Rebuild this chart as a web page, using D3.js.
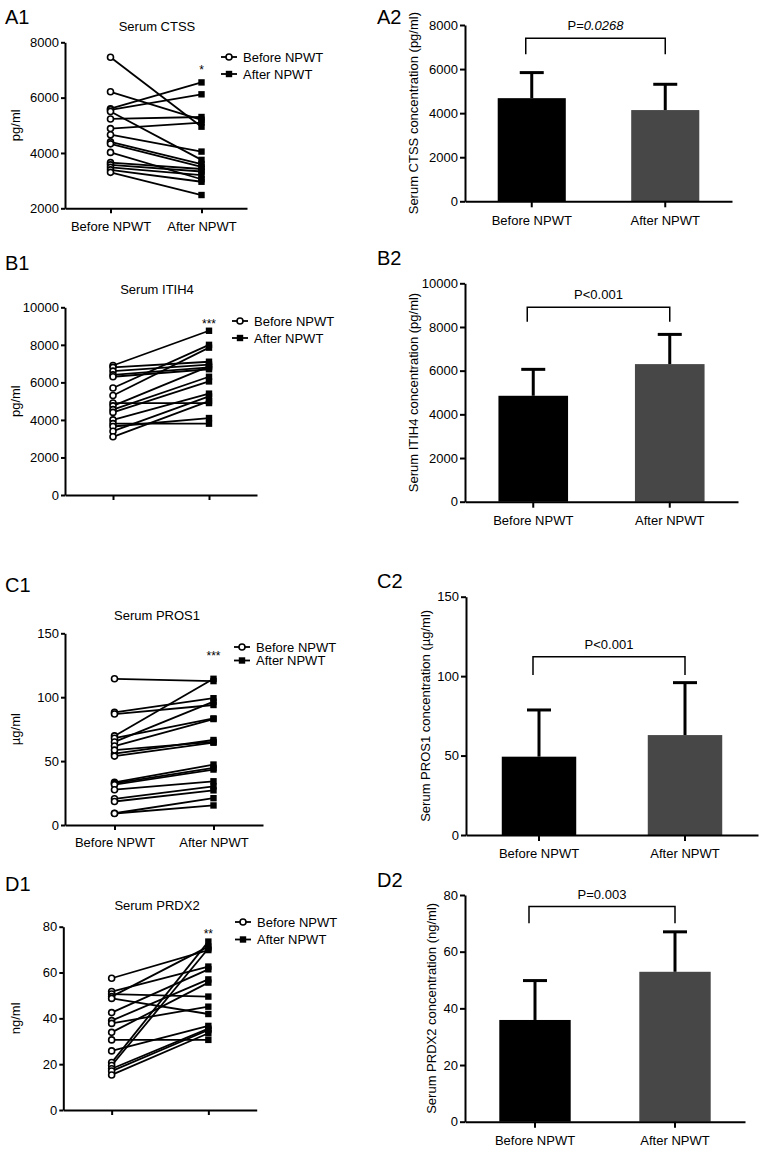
<!DOCTYPE html>
<html>
<head>
<meta charset="utf-8">
<script src="https://cdn.jsdelivr.net/npm/d3@7"></script>
<style>
  html, body { margin: 0; background: #fff; }
  svg { display: block; font-family: "Liberation Sans", Arial, Helvetica, sans-serif; }
</style>
</head>
<body>
<script>
// ---- data --------------------------------------------------------------
const groups = ["Before NPWT", "After NPWT"];

// paired patient values, left column (same index = same patient)
const ctssBefore = [7460, 6210, 5600, 5560, 5500, 5230, 4880, 4660, 4400, 4330, 4020, 3650, 3570, 3480, 3390, 3300];
const ctssAfter  = [4950, 5200, 6550, 6120, 3750, 5300, 5100, 4050, 3600, 3500, 3050, 3420, 3330, 3200, 2960, 2480];

const itihBefore = [6900, 6800, 6600, 6400, 6300, 5700, 5300, 4900, 4750, 4550, 4400, 4000, 3800, 3650, 3400, 3100];
const itihAfter  = [8750, 7100, 6950, 6800, 6700, 8000, 7850, 4900, 6850, 6300, 6050, 5400, 3800, 4100, 5250, 5000];

const prosBefore = [114.4, 88.1, 86.8, 69.7, 67.9, 65.0, 61.8, 55.8, 53.9, 58.6, 33.4, 32.5, 31.6, 27.6, 20.5, 18.4, 9.2, 9.0];
const prosAfter  = [112.6, 99.2, 93.9, 114.4, 83.4, 96.5, 82.9, 66.5, 64.4, 65.0, 47.3, 44.7, 43.4, 34.2, 30.2, 27.1, 21.0, 15.3];

const prdxBefore = [57.5, 51.7, 50.6, 49.5, 48.7, 42.5, 39.0, 37.8, 33.9, 30.6, 25.8, 20.7, 19.4, 18.0, 17.0, 15.3];
const prdxAfter  = [69.8, 62.6, 49.5, 71.3, 41.9, 61.4, 57.0, 45.1, 55.6, 30.6, 36.7, 73.5, 70.5, 35.5, 34.9, 33.5];

// group means and SD, right column
const ctssMean = [4680, 4140], ctssSd = [1160, 1170];
const itihMean = [4850, 6300], itihSd = [1210, 1360];
const prosMean = [49.3, 62.9], prosSd = [29.4, 33.0];
const prdxMean = [35.9, 52.9], prdxSd = [13.9, 14.1];

// significance bracket [top, leg end] in data units
const ctssBracket = [7400, 6670];
const itihBracket = [8900, 8240];
const prosBracket = [112.2, 100.7];
const prdxBracket = [75.9, 70.0];

const ticksA = [2000, 4000, 6000, 8000];
const ticksB = [0, 2000, 4000, 6000, 8000, 10000];
const ticksC = [0, 50, 100, 150];
const ticksD = [0, 20, 40, 60, 80];

// ---- drawing -----------------------------------------------------------
const svg = d3.select("body").append("svg").attr("width", 765).attr("height", 1152);
const FS = 13;

function styleAxis(g) {
  g.select(".domain").attr("stroke", "#000").attr("stroke-width", 2);
  g.selectAll(".tick line").attr("stroke", "#000").attr("stroke-width", 2);
  g.selectAll(".tick text").attr("fill", "#000").style("font-size", FS + "px");
}

function tag(txt, x, y) {
  svg.append("text").attr("x", x).attr("y", y).style("font-size", "20px").attr("fill", "#000").text(txt);
}

function yLabel(txt, x, y) {
  svg.append("text")
    .attr("transform", `translate(${x},${y}) rotate(-90)`)
    .attr("text-anchor", "middle").attr("dy", "0.35em")
    .style("font-size", FS + "px").attr("fill", "#000")
    .text(txt);
}

function paired(p) {
  const x = d3.scalePoint().domain(groups).range([p.x0, p.x1]).padding(0.5);
  const y = d3.scaleLinear().domain([p.ticks[0], p.ticks[p.ticks.length - 1]]).range([p.yBot, p.yTop]);
  const g = svg.append("g");

  g.append("g").attr("transform", `translate(${p.x0},0)`)
    .call(d3.axisLeft(y).tickValues(p.ticks).tickFormat(d3.format("d")).tickSize(4).tickSizeOuter(0).tickPadding(2))
    .call(styleAxis);
  g.append("g").attr("transform", `translate(0,${p.yBot})`)
    .call(d3.axisBottom(x).tickSize(5).tickSizeOuter(0).tickPadding(8)
      .tickFormat(p.cats ? (d) => d : () => ""))
    .call(styleAxis);

  const pairs = p.before.map((b, i) => [b, p.after[i]]);
  g.append("g").selectAll("line").data(pairs).join("line")
    .attr("x1", x(groups[0])).attr("x2", x(groups[1]))
    .attr("y1", (d) => y(d[0])).attr("y2", (d) => y(d[1]))
    .attr("stroke", "#000").attr("stroke-width", 1.8);
  g.append("g").selectAll("rect").data(p.after).join("rect")
    .attr("x", x(groups[1]) - 3.2).attr("y", (d) => y(d) - 3.2)
    .attr("width", 6.4).attr("height", 6.4).attr("fill", "#000");
  g.append("g").selectAll("circle").data(p.before).join("circle")
    .attr("cx", x(groups[0])).attr("cy", (d) => y(d)).attr("r", 3)
    .attr("fill", "#fff").attr("stroke", "#000").attr("stroke-width", 1.6);

  // title, unit, stars
  g.append("text").attr("x", 157).attr("y", p.titleY).attr("text-anchor", "middle")
    .style("font-size", FS + "px").text(p.title);
  yLabel(p.unit, 15, (p.yTop + p.yBot) / 2);
  g.append("text").attr("x", x(groups[1])).attr("y", p.starY).attr("text-anchor", "middle")
    .style("font-size", "12px").text(p.star);

  // legend
  groups.forEach((name, i) => {
    const ly = p.legY + i * p.legGap;
    g.append("line").attr("x1", p.legX - 8).attr("x2", p.legX + 8).attr("y1", ly).attr("y2", ly)
      .attr("stroke", "#000").attr("stroke-width", 1.8);
    if (i === 0) {
      g.append("circle").attr("cx", p.legX).attr("cy", ly).attr("r", 3)
        .attr("fill", "#fff").attr("stroke", "#000").attr("stroke-width", 1.6);
    } else {
      g.append("rect").attr("x", p.legX - 3.2).attr("y", ly - 3.2).attr("width", 6.4).attr("height", 6.4);
    }
    g.append("text").attr("x", p.legX + 14).attr("y", ly).attr("dy", "0.35em")
      .style("font-size", FS + "px").text(name);
  });
}

function bars(p) {
  const x = d3.scaleBand().domain(groups).range([p.x0, p.x1]).paddingInner(0.49).paddingOuter(0.245);
  const y = d3.scaleLinear().domain([0, p.ticks[p.ticks.length - 1]]).range([p.yBot, p.yTop]);
  const g = svg.append("g");
  const cx = (d) => x(d) + x.bandwidth() / 2;
  const rows = groups.map((k, i) => ({ k, m: p.mean[i], sd: p.sd[i] }));

  g.append("g").selectAll("rect").data(rows).join("rect")
    .attr("x", (d) => x(d.k)).attr("width", x.bandwidth())
    .attr("y", (d) => y(d.m)).attr("height", (d) => p.yBot - y(d.m))
    .attr("fill", (d, i) => (i === 0 ? "#000" : "#474747"));

  const err = g.append("g").attr("stroke", "#000").attr("stroke-width", 3);
  err.selectAll(".v").data(rows).join("line").attr("class", "v")
    .attr("x1", (d) => cx(d.k)).attr("x2", (d) => cx(d.k))
    .attr("y1", (d) => y(d.m)).attr("y2", (d) => y(d.m + d.sd));
  err.selectAll(".c").data(rows).join("line").attr("class", "c")
    .attr("x1", (d) => cx(d.k) - 12).attr("x2", (d) => cx(d.k) + 12)
    .attr("y1", (d) => y(d.m + d.sd)).attr("y2", (d) => y(d.m + d.sd));

  g.append("g").attr("transform", `translate(${p.x0},0)`)
    .call(d3.axisLeft(y).tickValues(p.ticks).tickFormat(d3.format("d")).tickSize(5).tickSizeOuter(0).tickPadding(2))
    .call(styleAxis);
  g.append("g").attr("transform", `translate(0,${p.yBot})`)
    .call(d3.axisBottom(x).tickSize(6).tickSizeOuter(0).tickPadding(8))
    .call(styleAxis);

  // bracket + p value
  const bx0 = cx(groups[0]) - 6, bx1 = cx(groups[1]);
  g.append("path")
    .attr("d", `M${bx0},${y(p.bracket[1])}V${y(p.bracket[0])}H${bx1}V${y(p.bracket[1])}`)
    .attr("fill", "none").attr("stroke", "#000").attr("stroke-width", 1.5);
  const t = g.append("text").attr("x", (bx0 + bx1) / 2).attr("y", y(p.bracket[0]) - 8)
    .attr("text-anchor", "middle").style("font-size", FS + "px");
  t.append("tspan").text(p.pLabel[0]);
  if (p.pLabel[1]) t.append("tspan").style("font-style", "italic").text(p.pLabel[1]);

  yLabel(p.label, p.labelX, (p.yTop + p.yBot) / 2);
}

// ---- panels ------------------------------------------------------------
tag("A1", 5, 24); tag("A2", 377, 24);
tag("B1", 5, 270); tag("B2", 377, 265);
tag("C1", 5, 592); tag("C2", 377, 588);
tag("D1", 5, 891); tag("D2", 377, 887);

paired({ before: ctssBefore, after: ctssAfter, ticks: ticksA, x0: 65, x1: 247, yTop: 42.3, yBot: 208.3,
  title: "Serum CTSS", titleY: 31, unit: "pg/ml", star: "*", starY: 74,
  legX: 229, legY: 57, legGap: 17, cats: true });
paired({ before: itihBefore, after: itihAfter, ticks: ticksB, x0: 65, x1: 257, yTop: 307.3, yBot: 495,
  title: "Serum ITIH4", titleY: 294, unit: "pg/ml", star: "***", starY: 328,
  legX: 240, legY: 321, legGap: 17, cats: false });
paired({ before: prosBefore, after: prosAfter, ticks: ticksC, x0: 65, x1: 263, yTop: 633.3, yBot: 825,
  title: "Serum PROS1", titleY: 620, unit: "\u00b5g/ml", star: "***", starY: 660,
  legX: 242, legY: 647, legGap: 13.5, cats: true });
paired({ before: prdxBefore, after: prdxAfter, ticks: ticksD, x0: 63.3, x1: 256.7, yTop: 926.7, yBot: 1110,
  title: "Serum PRDX2", titleY: 910, unit: "ng/ml", star: "**", starY: 938,
  legX: 243, legY: 922, legGap: 17.5, cats: false });

bars({ mean: ctssMean, sd: ctssSd, ticks: [0, 2000, 4000, 6000, 8000], bracket: ctssBracket,
  x0: 465, x1: 732, yTop: 25, yBot: 201.3, pLabel: ["P=", "0.0268"],
  label: "Serum CTSS concentration (pg/ml)", labelX: 413 });
bars({ mean: itihMean, sd: itihSd, ticks: ticksB, bracket: itihBracket,
  x0: 465, x1: 738, yTop: 283.3, yBot: 501.7, pLabel: ["P<0.001"],
  label: "Serum ITIH4 concentration (pg/ml)", labelX: 413 });
bars({ mean: prosMean, sd: prosSd, ticks: ticksC, bracket: prosBracket,
  x0: 466, x1: 758, yTop: 596.7, yBot: 835, pLabel: ["P<0.001"],
  label: "Serum PROS1 concentration (\u00b5g/ml)", labelX: 425 });
bars({ mean: prdxMean, sd: prdxSd, ticks: ticksD, bracket: prdxBracket,
  x0: 465, x1: 745, yTop: 895, yBot: 1121.7, pLabel: ["P=0.003"],
  label: "Serum PRDX2 concentration (ng/ml)", labelX: 431.7 });
</script>
</body>
</html>
